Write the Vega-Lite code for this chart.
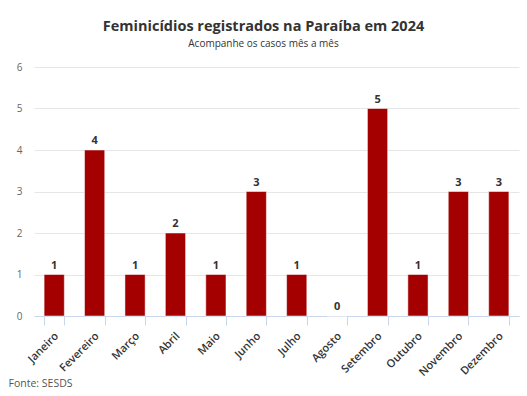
{
  "$schema": "https://vega.github.io/schema/vega-lite/v6.json",
  "width": 485,
  "height": 249,
  "autosize": {"type": "none"},
  "padding": {"left": 34, "top": 67, "right": 8, "bottom": 80},
  "background": "white",
  "config": {
    "font": "Open Sans",
    "view": {"stroke": null}
  },
  "title": {
    "text": "Feminicídios registrados na Paraíba em 2024",
    "subtitle": "Acompanhe os casos mês a mês",
    "anchor": "middle",
    "dx": -13,
    "fontSize": 14.5,
    "fontWeight": "bold",
    "color": "#333333",
    "subtitleFontSize": 10,
    "subtitleColor": "#333333",
    "subtitlePadding": 5,
    "offset": 12
  },
  "data": {
    "values": [
      {"mes": "Janeiro", "casos": 1},
      {"mes": "Fevereiro", "casos": 4},
      {"mes": "Março", "casos": 1},
      {"mes": "Abril", "casos": 2},
      {"mes": "Maio", "casos": 1},
      {"mes": "Junho", "casos": 3},
      {"mes": "Julho", "casos": 1},
      {"mes": "Agosto", "casos": 0},
      {"mes": "Setembro", "casos": 5},
      {"mes": "Outubro", "casos": 1},
      {"mes": "Novembro", "casos": 3},
      {"mes": "Dezembro", "casos": 3}
    ]
  },
  "encoding": {
    "x": {
      "field": "mes",
      "type": "nominal",
      "sort": null,
      "scale": {"paddingInner": 0.5, "paddingOuter": 0.25},
      "axis": {
        "title": "Fonte: SESDS",
        "titleAnchor": "start",
        "titleAlign": "left",
        "titleBaseline": "alphabetic",
        "titleX": -26,
        "titleY": 70,
        "titleFontSize": 10.5,
        "titleFontWeight": "normal",
        "titleColor": "#555555",
        "labelAngle": -45,
        "labelAlign": "right",
        "labelBaseline": "top",
        "labelFontSize": 11,
        "labelFontWeight": 600,
        "labelColor": "#333333",
        "labelPadding": 5,
        "domainColor": "#ccd6eb",
        "tickColor": "#ccd6eb",
        "tickSize": 9,
        "tickBand": "extent",
        "labelOffset": -2
      }
    },
    "y": {
      "field": "casos",
      "type": "quantitative",
      "scale": {"domain": [0, 6]},
      "axis": {
        "title": null,
        "values": [0, 1, 2, 3, 4, 5, 6],
        "labelOverlap": false,
        "domain": false,
        "ticks": false,
        "labelPadding": 12,
        "labelFontSize": 10,
        "labelColor": "#666666",
        "gridColor": "#e6e6e6"
      }
    }
  },
  "layer": [
    {
      "mark": {"type": "bar", "color": "#a50000", "stroke": "white", "strokeWidth": 0.5}
    },
    {
      "mark": {"type": "text", "dy": -9, "fontSize": 11, "fontWeight": "bold", "color": "#333333"},
      "encoding": {"text": {"field": "casos", "type": "quantitative"}}
    }
  ]
}
